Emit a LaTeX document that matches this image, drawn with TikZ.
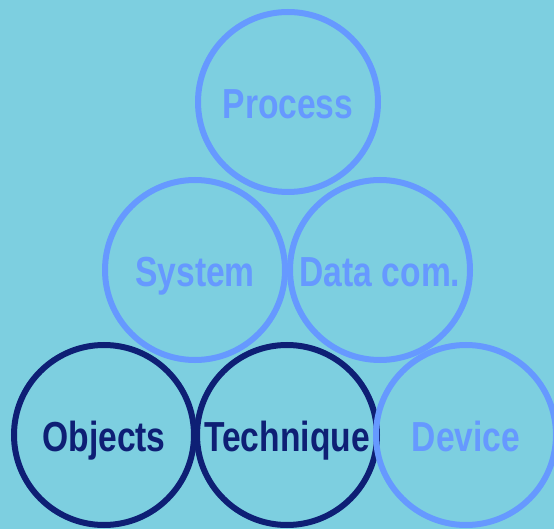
\documentclass[tikz,border=0pt]{standalone}
\usepackage{fontspec}
\setmainfont{Liberation Sans}[FakeStretch=0.8]
\usepackage{tikz}
\usetikzlibrary{positioning}
\definecolor{skyback}{HTML}{7DCFE0}
\definecolor{ringlight}{HTML}{6699FF}
\definecolor{ringdark}{HTML}{0E1F75}

\begin{document}
\begin{tikzpicture}[x=1pt, y=-1pt,
  every node/.style={font=\fontsize{42}{46}\selectfont\bfseries},
  ring/.style={circle, draw, line width=6pt, minimum size=180pt, inner sep=0pt, text height=33pt, text depth=0pt},
  lightring/.style={ring, draw=ringlight, text=ringlight},
  darkring/.style={ring, draw=ringdark, text=ringdark}]
\fill[skyback] (0,0) rectangle (554,529);
\useasboundingbox (0,0) rectangle (554,529);
% bottom row, dark rings first
\node[darkring] (objects) at (104,435) {Objects};
\node[darkring] (technique) at (287,435) {Technique};
% upper rings
\node[lightring] (process) at (288,102) {Process};
\node[lightring] (system) at (195,270) {System};
\node[lightring] (datacom) at (380,270) {Data com.};
\node[lightring] (device) at (466,435) {Device};
\end{tikzpicture}
\end{document}
